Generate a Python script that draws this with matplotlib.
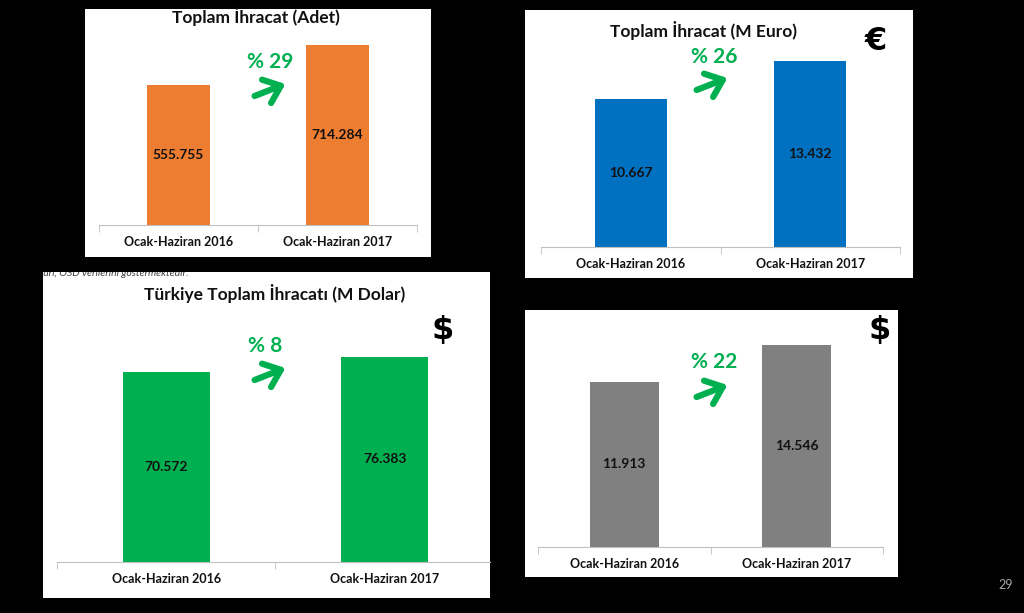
import matplotlib
matplotlib.use('Agg')
import matplotlib.pyplot as plt

plt.rcParams['font.family'] = ['Lato', 'DejaVu Sans']

categories = ['Ocak-Haziran 2016', 'Ocak-Haziran 2017']
adet = [555755, 714284]
euro = [10667, 13432]
dolar_tr = [70572, 76383]
dolar = [11913, 14546]

titles = ['Toplam İhracat (Adet)', 'Toplam İhracat (M Euro)',
          'Türkiye Toplam İhracatı (M Dolar)', '']
colors = ['#ED7D31', '#0070C0', '#00B050', '#808080']
green = '#00B050'

W, H = 1024, 613


def frac(x, y):
    return x / W, 1 - y / H


def box(x0, y0, x1, y1):
    return [x0 / W, 1 - y1 / H, (x1 - x0) / W, (y1 - y0) / H]


def fmt(v):
    return f'{v:,}'.replace(',', '.')


fig = plt.figure(figsize=(10.24, 6.13), dpi=100)
fig.patch.set_facecolor('black')

# panel layout: white box, bar axes, ylim/xlim tops, title pos, growth pos, arrow, currency sign
panels = [
    dict(data=adet, bg=(85, 9, 431, 257), ax=(99, 23, 417, 225), ymax=800000, xmax=1.5,
         title=(256, 17), pct=(270, 62), arrow=((252, 97), (288, 83)), sign=None),
    dict(data=euro, bg=(525, 10, 913, 278), ax=(541, 25, 900, 247), ymax=16000, xmax=1.5,
         title=(703, 30), pct=(714, 57), arrow=((694, 91), (730, 77)), sign=('€', 876, 42)),
    dict(data=dolar_tr, bg=(43, 272, 490, 598), ax=(57, 347, 490, 562), ymax=80000, xmax=1.482,
         title=(275, 294), pct=(265, 346), arrow=((252, 381), (288, 367)), sign=('$', 443, 330)),
    dict(data=dolar, bg=(525, 310, 898, 577), ax=(538, 325, 883, 547), ymax=16000, xmax=1.5,
         title=None, pct=(714, 362), arrow=((694, 398), (730, 384)), sign=('$', 880, 330)),
]

for i, p in enumerate(panels):
    bg = fig.add_axes(box(*p['bg']))
    bg.set_facecolor('white')
    bg.set_xticks([])
    bg.set_yticks([])
    for s in bg.spines.values():
        s.set_visible(False)
    if i == 2:
        # clipped source note sitting under the panel above
        bg.text(-0.005, 0.995, 'ları, OSD verilerini göstermektedir.', transform=bg.transAxes,
                fontsize=7.5, style='italic', color='#404040', va='center', clip_on=True)

    ax = fig.add_axes(box(*p['ax']))
    ax.patch.set_alpha(0)
    vals = p['data']
    x = list(range(len(vals)))
    ax.bar(x, vals, width=0.4, color=colors[i])
    for xi, v in zip(x, vals):
        ax.text(xi, v / 2, fmt(v), ha='center', va='center', fontsize=10,
                fontweight='bold', color='#111111')
    ax.set_xlim(-0.5, p['xmax'])
    ax.set_ylim(0, p['ymax'])
    for s in ['left', 'top', 'right']:
        ax.spines[s].set_visible(False)
    ax.spines['bottom'].set_color('#bfbfbf')
    ax.set_yticks([])
    ax.set_xticks(x)
    ax.set_xticklabels(categories, fontsize=9, fontweight='bold', color='#111111')
    ax.tick_params(axis='x', which='major', length=0, pad=8)
    ax.set_xticks([t for t in [-0.5, 0.5, 1.5] if t <= p['xmax']], minor=True)
    ax.tick_params(axis='x', which='minor', length=5, color='#bfbfbf')

    if p['title']:
        fig.text(*frac(*p['title']), titles[i], ha='center', va='center',
                 fontsize=12.5, fontweight='bold', color='#111111')

    growth = round((vals[1] / vals[0] - 1) * 100)
    fig.text(*frac(*p['pct']), f'% {growth}', ha='center', va='center',
             fontsize=15, fontweight='bold', color=green)

    tail, head = p['arrow']
    fig.add_artist(matplotlib.patches.FancyArrowPatch(
        frac(*tail), frac(*head), transform=fig.transFigure,
        arrowstyle='->, head_length=0.55, head_width=0.45', mutation_scale=20,
        lw=4.5, color=green))

    if p['sign']:
        sym, sx, sy = p['sign']
        fig.text(*frac(sx, sy), sym, ha='center', va='center', fontsize=23,
                 fontweight='bold', color='black', family=['DejaVu Sans'])

fig.text(*frac(1006, 585), '29', ha='center', va='center', fontsize=9, color='#a6a6a6')

fig.savefig('out.png', dpi=100, facecolor=fig.get_facecolor())
